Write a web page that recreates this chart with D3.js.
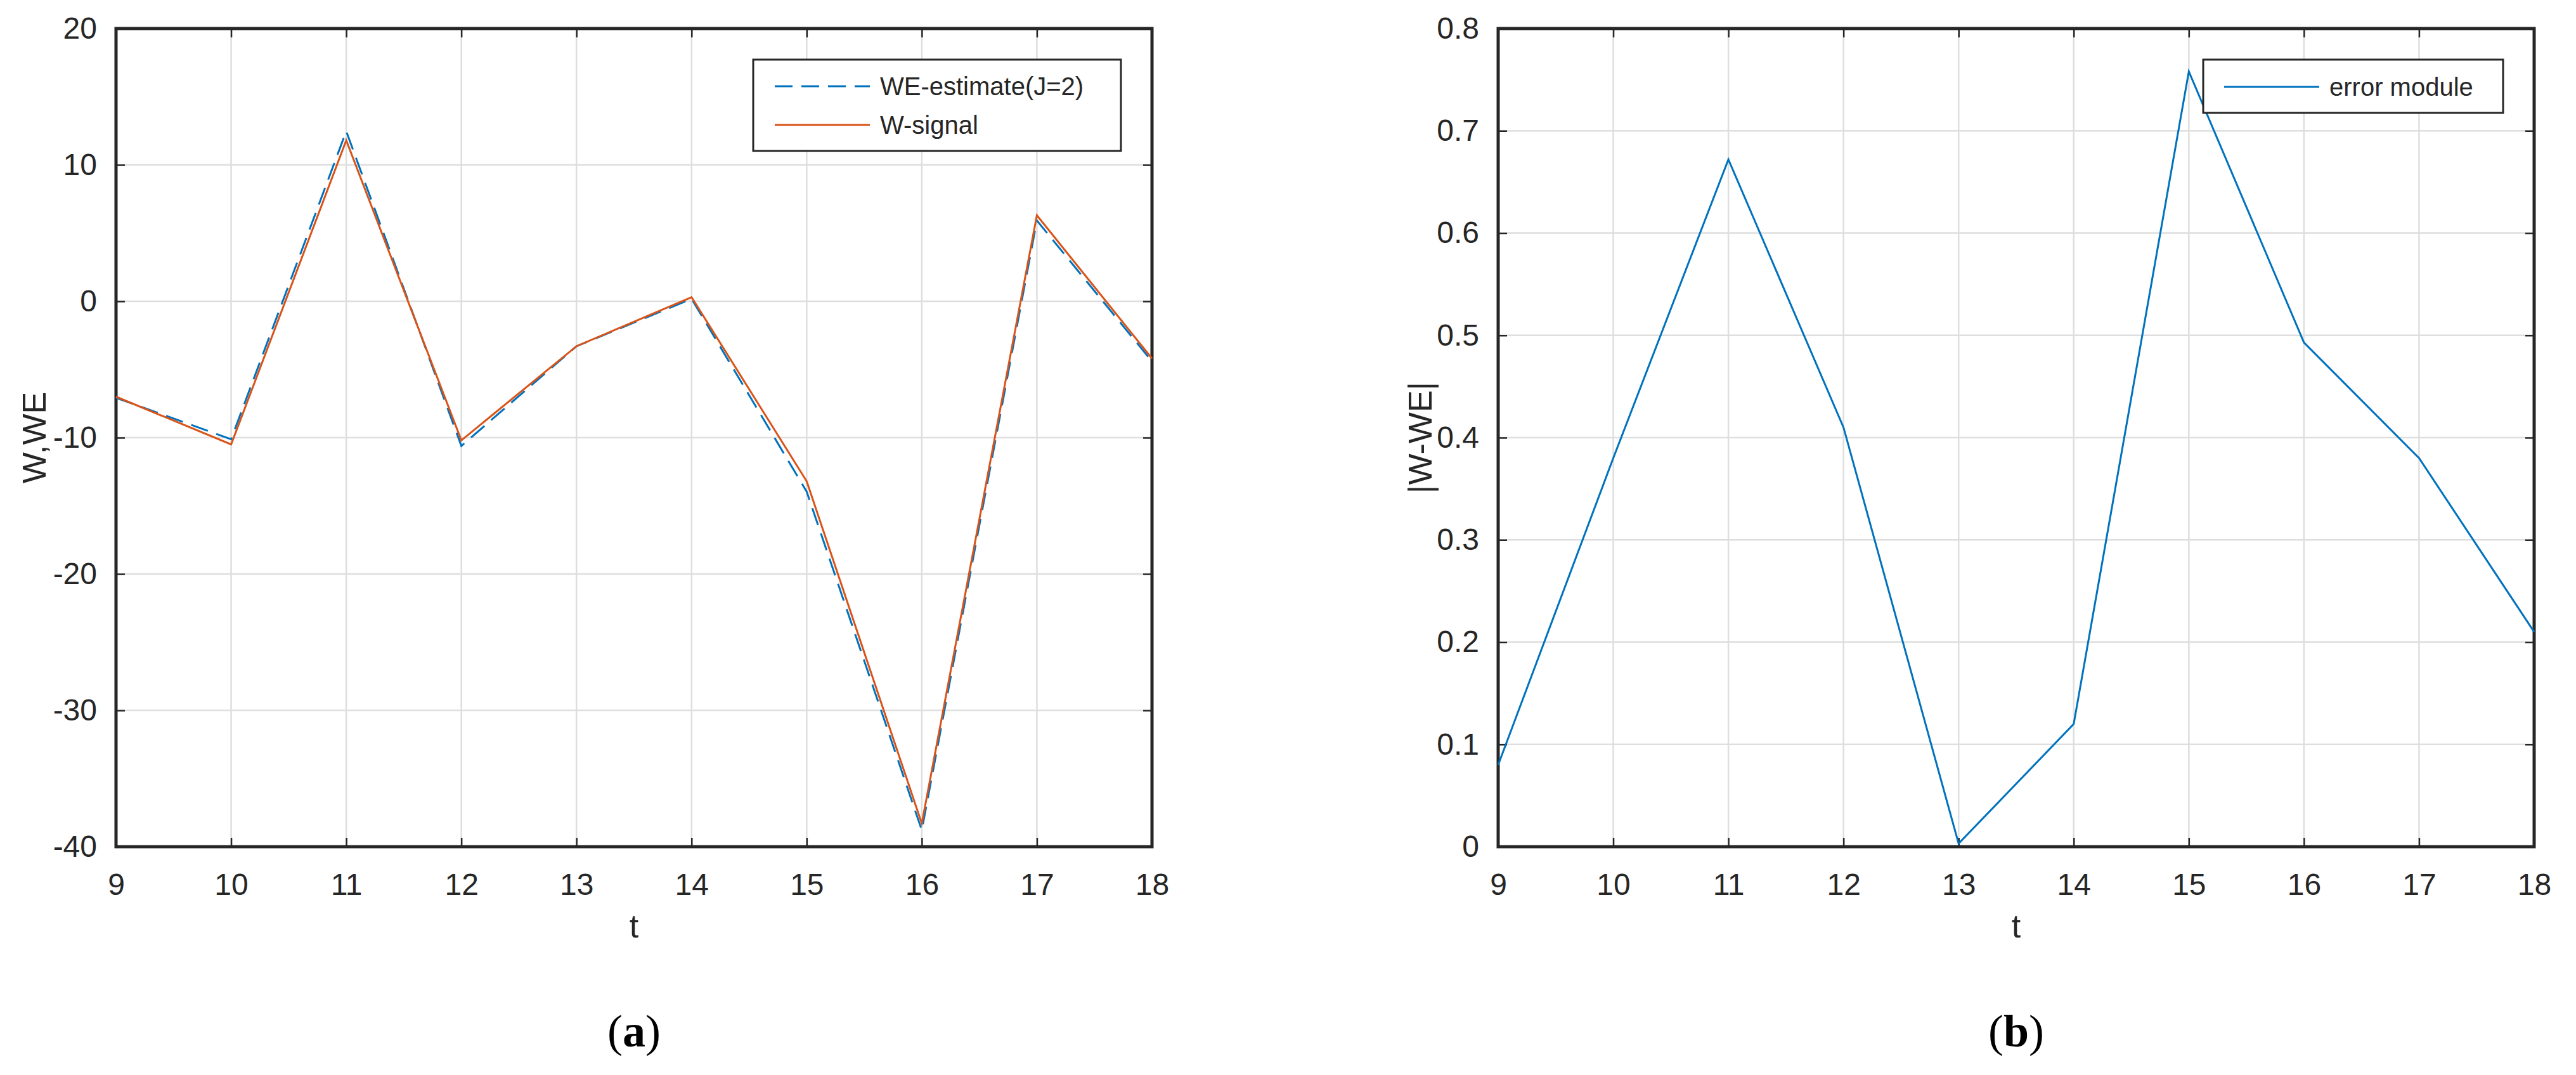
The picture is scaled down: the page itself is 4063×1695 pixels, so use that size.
<!DOCTYPE html>
<html>
<head>
<meta charset="utf-8">
<script src="https://cdn.jsdelivr.net/npm/d3@7"></script>
<style>
body{margin:0;background:#fff;}
text{font-family:"Liberation Sans",Arial,sans-serif;}
</style>
</head>
<body>
<svg id="chart" width="4063" height="1695"></svg>
<script>
// datos
var t = [9, 10, 11, 12, 13, 14, 15, 16, 17, 18];
var wSignal = [-7.0, -10.5, 11.8, -10.2, -3.3, 0.3, -13.2, -38.3, 6.3, -4.2];
var weEstimate = [-7.08, -10.12, 12.47, -10.61, -3.30, 0.18, -13.96, -38.79, 5.92, -4.41];
var errModule = [0.08, 0.38, 0.672, 0.41, 0.003, 0.12, 0.758, 0.493, 0.38, 0.21];
var yTicksA = [-40, -30, -20, -10, 0, 10, 20];
var yTicksB = [0, 0.1, 0.2, 0.3, 0.4, 0.5, 0.6, 0.7, 0.8];

var svg = d3.select('#chart');
var blue = '#0072BD', orange = '#D95319', ink = '#262626';

function panel(left, right, yDom, yTicks, fmt, ylabel, labelX, caption){
    var top = 45, bottom = 1335;
    var x = d3.scaleLinear().domain([9, 18]).range([left, right]);
    var y = d3.scaleLinear().domain(yDom).range([bottom, top]);
    var g = svg.append('g');
    // grid
    g.selectAll('.gx').data(t).enter().append('line')
        .attr('x1', function(d){return x(d);}).attr('x2', function(d){return x(d);})
        .attr('y1', top).attr('y2', bottom)
        .attr('stroke', '#dedede').attr('stroke-width', 2.5);
    g.selectAll('.gy').data(yTicks).enter().append('line')
        .attr('y1', function(d){return y(d);}).attr('y2', function(d){return y(d);})
        .attr('x1', left).attr('x2', right)
        .attr('stroke', '#dedede').attr('stroke-width', 2.5);
    // ejes
    var ax = g.append('g').attr('transform', 'translate(0,' + bottom + ')')
        .call(d3.axisBottom(x).tickValues(t).tickSizeInner(-14).tickSizeOuter(0).tickPadding(42));
    var axT = g.append('g').attr('transform', 'translate(0,' + top + ')')
        .call(d3.axisTop(x).tickValues(t).tickSizeInner(-14).tickSizeOuter(0).tickFormat(''));
    var ay = g.append('g').attr('transform', 'translate(' + left + ',0)')
        .call(d3.axisLeft(y).tickValues(yTicks).tickFormat(fmt).tickSizeInner(-14).tickSizeOuter(0).tickPadding(30));
    var ayR = g.append('g').attr('transform', 'translate(' + right + ',0)')
        .call(d3.axisRight(y).tickValues(yTicks).tickSizeInner(-14).tickSizeOuter(0).tickFormat(''));
    [ax, axT, ay, ayR].forEach(function(a){
        a.select('.domain').remove();
        a.selectAll('line').attr('stroke', ink).attr('stroke-width', 2.5);
        a.selectAll('text').attr('fill', ink).style('font-size', '48px');
    });
    ax.selectAll('text').attr('dy', '0.71em');
    g.append('rect').attr('x', left).attr('y', top).attr('width', right - left).attr('height', bottom - top)
        .attr('fill', 'none').attr('stroke', ink).attr('stroke-width', 5);
    g.append('text').attr('x', (left + right) / 2).attr('y', 1478).attr('text-anchor', 'middle')
        .attr('fill', ink).style('font-size', '52px').text('t');
    g.append('text').attr('transform', 'translate(' + labelX + ',' + ((top + bottom) / 2) + ') rotate(-90)')
        .attr('text-anchor', 'middle').attr('fill', ink).style('font-size', '52px').text(ylabel);
    var cap = g.append('text').attr('x', (left + right) / 2).attr('y', 1650).attr('text-anchor', 'middle')
        .style('font-family', '"Liberation Serif","Times New Roman",serif').style('font-size', '72px').attr('fill', '#000');
    cap.append('tspan').text('(');
    cap.append('tspan').style('font-weight', 'bold').text(caption);
    cap.append('tspan').text(')');
    return {g: g, x: x, y: y};
}

// (a)
var pa = panel(183, 1817, [-40, 20], yTicksA, function(d){return String(d);}, 'W,WE', 72, 'a');
var lineA = d3.line().x(function(d, i){return pa.x(t[i]);}).y(function(d){return pa.y(d);});
pa.g.append('path').attr('d', lineA(weEstimate)).attr('fill', 'none')
    .attr('stroke', blue).attr('stroke-width', 3).attr('stroke-dasharray', '28,14');
pa.g.append('path').attr('d', lineA(wSignal)).attr('fill', 'none')
    .attr('stroke', orange).attr('stroke-width', 3);
// leyenda a
pa.g.append('rect').attr('x', 1188).attr('y', 94).attr('width', 580).attr('height', 144)
    .attr('fill', '#fff').attr('stroke', ink).attr('stroke-width', 3);
pa.g.append('line').attr('x1', 1222).attr('x2', 1372).attr('y1', 136).attr('y2', 136)
    .attr('stroke', blue).attr('stroke-width', 3).attr('stroke-dasharray', '28,14');
pa.g.append('line').attr('x1', 1222).attr('x2', 1372).attr('y1', 197).attr('y2', 197)
    .attr('stroke', orange).attr('stroke-width', 3);
pa.g.append('text').attr('x', 1388).attr('y', 150).attr('fill', ink).style('font-size', '40px').text('WE-estimate(J=2)');
pa.g.append('text').attr('x', 1388).attr('y', 211).attr('fill', ink).style('font-size', '40px').text('W-signal');

// (b)
var pb = panel(2363, 3997, [0, 0.8], yTicksB, function(d){return d === 0 ? '0' : d3.format('.1f')(d);}, '|W-WE|', 2258, 'b');
var lineB = d3.line().x(function(d, i){return pb.x(t[i]);}).y(function(d){return pb.y(d);});
pb.g.append('path').attr('d', lineB(errModule)).attr('fill', 'none')
    .attr('stroke', blue).attr('stroke-width', 3);
pb.g.append('rect').attr('x', 3475).attr('y', 94).attr('width', 473).attr('height', 84)
    .attr('fill', '#fff').attr('stroke', ink).attr('stroke-width', 3);
pb.g.append('line').attr('x1', 3508).attr('x2', 3658).attr('y1', 137).attr('y2', 137)
    .attr('stroke', blue).attr('stroke-width', 3);
pb.g.append('text').attr('x', 3674).attr('y', 151).attr('fill', ink).style('font-size', '40px').text('error module');
</script>
</body>
</html>
